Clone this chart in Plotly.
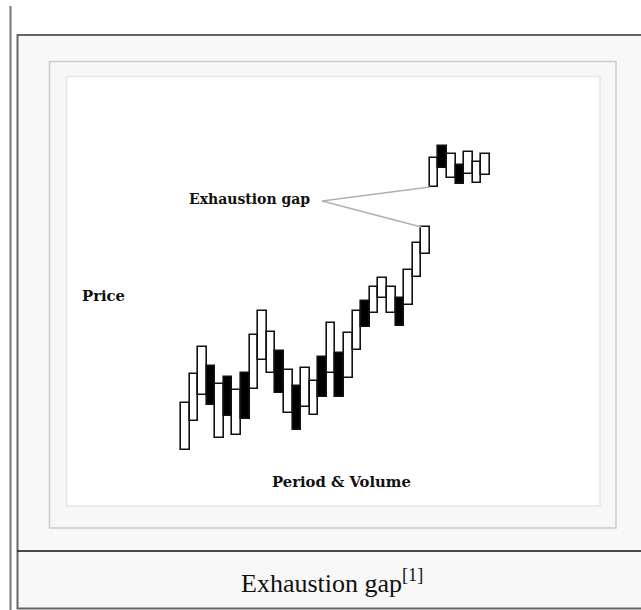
import plotly.graph_objects as go

# ---- data ----
periods = list(range(1, 37))
opens = [5.5, 8.4, 11.0, 13.9, 6.7, 12.8, 7.0, 13.2, 11.6, 14.5, 13.2, 15.4,
         9.2, 11.9, 9.8, 9.0, 14.8, 13.2, 15.2, 12.7, 15.5, 20.4, 19.2, 20.7,
         19.2, 20.7, 20.0, 22.8, 25.1, 31.8, 35.9, 32.7, 34.0, 33.1, 32.2, 33.0]
closes = [10.2, 13.1, 15.8, 10.0, 12.1, 8.9, 11.5, 8.6, 17.0, 19.4, 17.3, 11.2,
          13.5, 7.5, 13.7, 12.4, 10.8, 18.2, 10.8, 17.2, 19.4, 17.8, 21.8, 22.7,
          21.8, 17.9, 23.5, 26.2, 27.8, 34.7, 33.7, 35.1, 32.1, 35.3, 34.3, 35.1]
gap_before = 29  # period after which the exhaustion gap opens
labels = {"gap": "Exhaustion gap", "price": "Price", "period": "Period & Volume"}
caption = "Exhaustion gap<sup>[1]</sup>"

W, H = 641, 610
def px(x):
    return x / W
def py(y):
    return 1 - y / H

bases = [min(o, c) for o, c in zip(opens, closes)]
heights = [abs(c - o) for o, c in zip(opens, closes)]
fills = ["white" if c > o else "black" for o, c in zip(opens, closes)]

fig = go.Figure()
fig.add_trace(go.Bar(
    x=periods, y=heights, base=bases, width=1,
    marker=dict(color=fills, line=dict(color="#111111", width=1.6)),
    hoverinfo="skip", showlegend=False,
))

shapes = [
    # left page rule
    dict(type="line", xref="paper", yref="paper", x0=px(10.5), x1=px(10.5),
         y0=py(6), y1=py(612), line=dict(color="#777777", width=2), layer="below"),
    # outer figure box
    dict(type="rect", xref="paper", yref="paper", x0=px(17.5), x1=px(660),
         y0=py(35), y1=py(608.5), fillcolor="#f8f8f8",
         line=dict(color="#666666", width=2), layer="below"),
    # inner grey frame
    dict(type="rect", xref="paper", yref="paper", x0=px(49.5), x1=px(616),
         y0=py(61.5), y1=py(528), fillcolor="#f7f7f7",
         line=dict(color="#cccccc", width=1.5), layer="below"),
    # white image area
    dict(type="rect", xref="paper", yref="paper", x0=px(66.5), x1=px(600),
         y0=py(76.5), y1=py(506), fillcolor="white",
         line=dict(color="#e6e6e6", width=1.5), layer="below"),
    # caption separator
    dict(type="line", xref="paper", yref="paper", x0=px(17.5), x1=px(660),
         y0=py(551), y1=py(551), line=dict(color="#111111", width=1.5)),
]

# pointer lines from the label to the gap
i_lo = gap_before - 1
i_hi = gap_before
apex_x, apex_y = 16.94, 30.4
shapes.append(dict(type="path", xref="x", yref="y",
                   path=f"M {periods[i_hi]-0.5},{opens[i_hi]} L {apex_x},{apex_y} L {periods[i_lo]-0.5},{closes[i_lo]}",
                   line=dict(color="#b0b0b0", width=1.3)))

def tfont(size):
    return dict(family="DejaVu Serif", size=size, color="#111111", weight="bold")

annotations = [
    dict(text=labels["gap"], xref="paper", yref="paper", x=px(187), y=py(199),
         xanchor="left", yanchor="middle", showarrow=False, font=tfont(14)),
    dict(text=labels["price"], xref="paper", yref="paper", x=px(80), y=py(295),
         xanchor="left", yanchor="middle", showarrow=False, font=tfont(14.8)),
    dict(text=labels["period"], xref="paper", yref="paper", x=px(270), y=py(482),
         xanchor="left", yanchor="middle", showarrow=False, font=tfont(14.8)),
    dict(text=caption, xref="paper", yref="paper", x=px(239), y=py(581),
         xanchor="left", yanchor="middle", showarrow=False,
         font=dict(family="Liberation Serif", size=26, color="#111111")),
]

fig.update_layout(
    width=W, height=H,
    margin=dict(l=0, r=0, t=0, b=0),
    paper_bgcolor="white", plot_bgcolor="rgba(0,0,0,0)",
    shapes=shapes, annotations=annotations,
    bargap=0,
    xaxis=dict(domain=[px(66), px(600)], range=[-12.90, 49.33], visible=False, fixedrange=True),
    yaxis=dict(domain=[py(505), py(76)], range=[0, 42.9], visible=False, fixedrange=True),
    showlegend=False,
)

fig.write_html("out.html", config={"displayModeBar": False},
               post_script="document.body.style.margin='0';document.body.style.overflow='hidden';")
